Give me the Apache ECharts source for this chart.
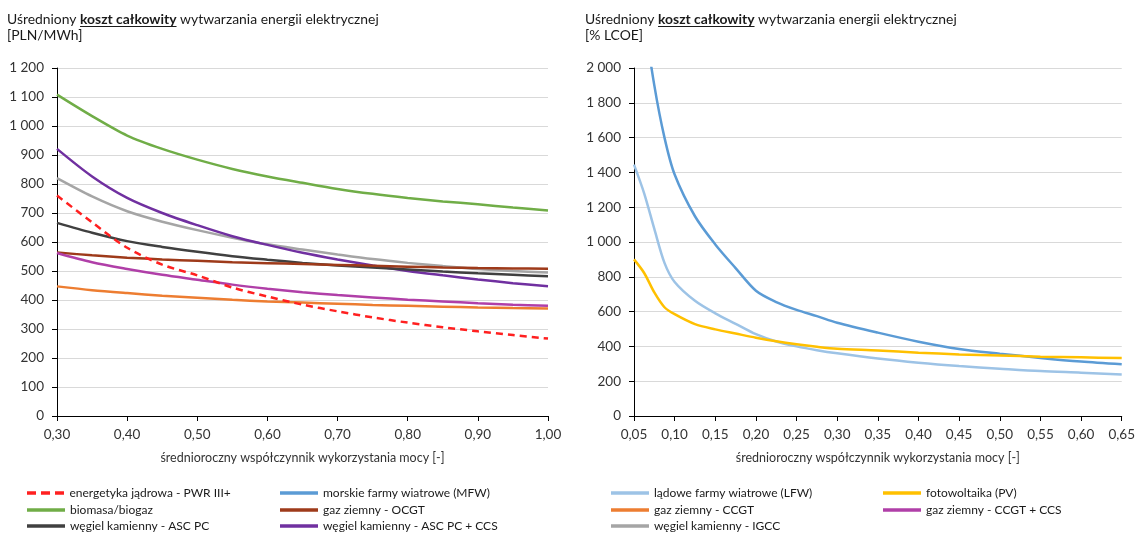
<!DOCTYPE html>
<html>
<head>
<meta charset="utf-8">
<script src="https://cdn.jsdelivr.net/npm/echarts@6/dist/echarts.min.js"></script>
<style>
  html, body { margin: 0; padding: 0; background: #fff; }
  #chart { width: 1138px; height: 537px; }
</style>
</head>
<body>
<div id="chart"></div>
<script>
  // left chart: PLN/MWh vs capacity factor
  const leftX = [0.30, 0.35, 0.40, 0.45, 0.50, 0.55, 0.60, 0.65, 0.70, 0.75, 0.80, 0.85, 0.90, 0.95, 1.00]
  const pwr = [760, 668, 580, 522, 485, 443, 412, 384, 361, 340, 322, 306, 292, 279, 267]
  const biomasa = [1108, 1034, 967, 921, 884, 852, 826, 804, 783, 766, 752, 740, 730, 719, 709]
  const ascpc = [666, 632, 603, 583, 566, 551, 539, 528, 519, 512, 505, 498, 492, 487, 482]
  const ocgt = [564, 554, 546, 540, 535, 530, 527, 524, 521, 518, 515, 512, 510, 509, 508]
  const ascpcCcs = [921, 826, 752, 700, 658, 620, 590, 563, 540, 519, 500, 485, 471, 458, 447]
  const ccgt = [447, 434, 424, 415, 408, 401, 395, 391, 387, 383, 380, 377, 374, 372, 371]
  const ccgtCcs = [562, 530, 507, 487, 470, 453, 439, 427, 417, 409, 401, 395, 389, 384, 380]
  const igcc = [820, 757, 706, 670, 641, 615, 592, 574, 557, 541, 528, 517, 507, 500, 495]

  // right chart: % LCOE vs capacity factor
  const rightX = [0.05, 0.0625, 0.075, 0.0875, 0.10, 0.125, 0.15, 0.175, 0.20, 0.225, 0.25, 0.275, 0.30, 0.35, 0.40, 0.45, 0.50, 0.55, 0.60, 0.65]
  const mfw = [2850, 2300, 1900, 1600, 1388, 1148, 986, 850, 720, 655, 610, 574, 536, 479, 427, 385, 358, 334, 313, 297]
  const lfw = [1445, 1280, 1075, 880, 770, 662, 590, 530, 470, 428, 400, 378, 360, 330, 306, 287, 272, 258, 249, 239]
  const pv = [900, 822, 710, 625, 585, 528, 498, 474, 450, 429, 412, 398, 387, 377, 364, 354, 348, 341, 337, 333]

  // legend layout: [name, column, row]
  const legendItems = [
    ['energetyka jądrowa - PWR III+', 0, 0],
    ['morskie farmy wiatrowe (MFW)', 1, 0],
    ['lądowe farmy wiatrowe (LFW)', 2, 0],
    ['fotowoltaika (PV)', 3, 0],
    ['biomasa/biogaz', 0, 1],
    ['gaz ziemny - OCGT', 1, 1],
    ['gaz ziemny - CCGT', 2, 1],
    ['gaz ziemny - CCGT + CCS', 3, 1],
    ['węgiel kamienny - ASC PC', 0, 2],
    ['węgiel kamienny - ASC PC + CCS', 1, 2],
    ['węgiel kamienny - IGCC', 2, 2]
  ]
  const legendCols = [27, 280, 611, 883]
  const legendRows = [487, 504, 520]

  const FONT = 'Lato'
  const FS = 13.9
  const xName = 'średnioroczny współczynnik wykorzystania mocy [-]'
  const solidIcon = 'path://M0,0H38V3.5H0Z'
  const dashIcon = 'path://M0,0H9V3.5H0Z M14,0H23V3.5H14Z M28,0H37V3.5H28Z'

  function pairs(xs, ys) {
    return xs.map((x, i) => [x, ys[i]])
  }
  function thousands(v) {
    return String(v).replace(/\B(?=(\d{3})+(?!\d))/g, ' ')
  }

  function makeLine(name, xs, ys, color, idx, dashed) {
    return {
      name: name,
      type: 'line',
      xAxisIndex: idx,
      yAxisIndex: idx,
      data: pairs(xs, ys),
      smooth: 0.3,
      symbol: 'none',
      clip: true,
      lineStyle: { color: color, width: 2.5, type: dashed ? [7, 5] : 'solid' },
      itemStyle: { color: color }
    }
  }

  function xAxis(idx, min, max, interval) {
    return {
      type: 'value', gridIndex: idx, min: min, max: max, interval: interval,
      name: xName, nameLocation: 'middle', nameGap: 35,
      nameTextStyle: { fontFamily: FONT, fontSize: 12.5, color: '#333' },
      axisLine: { show: true, lineStyle: { color: '#000', width: 1 } },
      axisTick: { show: true, length: 5, lineStyle: { color: '#000' } },
      splitLine: { show: false },
      axisLabel: {
        fontFamily: FONT, fontSize: 13.5, color: '#333', margin: 12,
        formatter: v => v.toFixed(2).replace('.', ',')
      }
    }
  }
  function yAxis(idx, max, interval) {
    return {
      type: 'value', gridIndex: idx, min: 0, max: max, interval: interval,
      axisLine: { show: true, lineStyle: { color: '#000', width: 1 } },
      axisTick: { show: true, length: 5, lineStyle: { color: '#000' } },
      splitLine: { show: true, lineStyle: { color: '#d9d9d9', width: 1 } },
      axisLabel: {
        fontFamily: FONT, fontSize: 13.5, color: '#333', margin: 13,
        formatter: v => thousands(v)
      }
    }
  }

  // measure title pieces for the underline
  const ctx = document.createElement('canvas').getContext('2d')
  ctx.font = FS + 'px ' + FONT
  const preW = ctx.measureText('Uśredniony ').width
  ctx.font = 'bold ' + FS + 'px ' + FONT
  const boldW = ctx.measureText('koszt całkowity').width

  function title(left, unit) {
    return {
      left: left, top: 12, padding: 0,
      text: '{a|Uśredniony }{b|koszt całkowity}{a| wytwarzania energii elektrycznej}\n{a|' + unit + '}',
      textStyle: {
        rich: {
          a: { fontFamily: FONT, fontSize: FS, fontWeight: 'normal', color: '#1a1a1a', lineHeight: 16 },
          b: { fontFamily: FONT, fontSize: FS, fontWeight: 'bold', color: '#1a1a1a', lineHeight: 16 }
        }
      }
    }
  }
  function underline(left) {
    return {
      type: 'line',
      shape: { x1: left + preW, y1: 26.5, x2: left + preW + boldW, y2: 26.5 },
      style: { stroke: '#1a1a1a', lineWidth: 1 }
    }
  }

  const option = {
    animation: false,
    backgroundColor: '#fff',
    title: [title(7, '[PLN/MWh]'), title(585, '[% LCOE]')],
    graphic: [underline(7), underline(585)],
    legend: legendItems.map(it => ({
      left: legendCols[it[1]], top: legendRows[it[2]], padding: 0,
      data: [{ name: it[0], icon: it[0].indexOf('PWR') >= 0 ? dashIcon : solidIcon }],
      itemWidth: 38, itemHeight: 3.5, itemGap: 0,
      selectedMode: false,
      textStyle: { fontFamily: FONT, fontSize: 12, color: '#1a1a1a' }
    })),
    grid: [
      { left: 57, top: 68, width: 491, height: 348 },
      { left: 634, top: 68, width: 492, height: 348 }
    ],
    xAxis: [xAxis(0, 0.3, 1.0, 0.1), xAxis(1, 0.05, 0.65, 0.05)],
    yAxis: [yAxis(0, 1200, 100), yAxis(1, 2000, 200)],
    series: [
      makeLine('biomasa/biogaz', leftX, biomasa, '#70ad47', 0),
      makeLine('węgiel kamienny - IGCC', leftX, igcc, '#a5a5a5', 0),
      makeLine('węgiel kamienny - ASC PC + CCS', leftX, ascpcCcs, '#7030a0', 0),
      makeLine('węgiel kamienny - ASC PC', leftX, ascpc, '#404040', 0),
      makeLine('gaz ziemny - OCGT', leftX, ocgt, '#9e3a1a', 0),
      makeLine('gaz ziemny - CCGT + CCS', leftX, ccgtCcs, '#b03fa8', 0),
      makeLine('gaz ziemny - CCGT', leftX, ccgt, '#ed7d31', 0),
      makeLine('energetyka jądrowa - PWR III+', leftX, pwr, '#ff2020', 0, true),
      makeLine('morskie farmy wiatrowe (MFW)', rightX, mfw, '#5b9bd5', 1),
      makeLine('lądowe farmy wiatrowe (LFW)', rightX, lfw, '#9dc3e6', 1),
      makeLine('fotowoltaika (PV)', rightX, pv, '#ffc000', 1)
    ]
  }

  const chart = echarts.init(document.getElementById('chart'))
  chart.setOption(option)
</script>
</body>
</html>
